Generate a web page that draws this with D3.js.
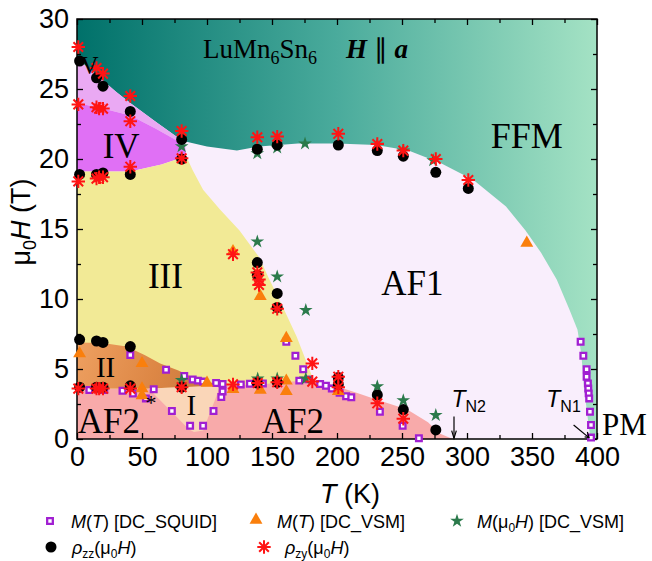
<!DOCTYPE html>
<html><head><meta charset="utf-8">
<script src="https://cdn.jsdelivr.net/npm/d3@7"></script>
<style>body{margin:0;background:#fff}svg{display:block}</style>
</head><body>
<script>
// ---------- phase boundaries, [T (K), mu0H (T)] ----------
const vTop     = [[0,27.2],[10,26.4],[20,25.6],[30,24.8],[41,24.0],[60,22.7],[81,21.3]];
const vBottom  = [[0,24.0],[20,23.6],[41,23.1],[60,22.2],[81,21.1]];
const ivBottom = [[0,19.1],[41,19.1],[65,19.6],[84,20.2]];
const ffmEdge  = [[81,21.3],[100,20.9],[123,20.6],[140,20.9],[170,21.1],[200,21.1],[230,21.0],[255,20.6],[280,19.7],[305,18.5],[330,16.6],[345,14.9],[357,13.3],[369,11.4],[379,9.2],[385,7.8],[388,6.0],[390,3.7],[393,1.4],[395,0]];
const iiiEdge  = [[84,20.2],[89,19.2],[97,17.8],[110,16.4],[125,14.9],[140,13.0],[148,11.4],[158,9.5],[169,7.3],[177,5.4],[182,4.2]];
const af2Top   = [[0,3.6],[55,3.6],[110,3.8],[141,3.9],[166,4.1],[182,4.2],[192,4.0],[202,3.7],[215,3.3],[228,2.9],[254,2.1],[270,1.2],[279,0.4],[289,0]];
const iiTop    = [[0,6.9],[20,6.85],[38,6.6],[52,6.0],[64,5.4],[78,4.9],[89,4.4],[100,4.1],[110,3.85]];
const iEdge    = [[55,3.6],[110,3.8],[107,3.0],[97,0.6],[90,0.5],[86,0.7]];

// ---------- measured transition points, [T (K), mu0H (T)] ----------
const squidPts = [[9.5,3.5],[21,3.5],[35,3.45],[41,6.0],[43,3.25],[53,2.9],[59,3.55],[68.5,4.95],[73,2.0],[82.5,4.5],[89,4.25],[93,4.17],[97,4.1],[87,0.95],[97,0.95],[105,2.0],[107,4.0],[111,3.0],[112,3.4],[112,3.93],[126,3.9],[133,3.95],[143,3.97],[161,6.95],[168,5.95],[174,4.98],[171,4.17],[178,4.26],[187,3.93],[191.5,3.8],[196,3.6],[202,3.3],[207,3.05],[211,2.98],[233,1.95],[250.5,0.95],[263,0.05],[387.4,6.95],[389.5,5.95],[392,4.98],[392,4.45],[393,3.97],[393.3,3.6],[393.6,3.26],[394,2.9],[394.6,1.95],[395.4,1.0],[395.4,0.1]];
const vsmTPts  = [[2,6.1],[50,5.4],[50,3.6],[50,3.1],[100,4.0],[120,13.4],[141,10.2],[161,7.2],[120,3.55],[141,3.5],[161,4.15],[161,3.4],[201,3.4],[346,14.0]];
const vsmHPts  = [[80.5,20.9],[80.5,4.2],[138.7,20.4],[154,20.8],[175.4,21.1],[231,21.0],[251,20.6],[274,19.9],[138.7,14.1],[154,11.6],[176,9.2],[139,4.3],[154,4.3],[176,4.3],[231,3.75],[251,2.75],[276,1.7]];
const rhoZZPts = [[2,27.0],[15,25.8],[20,25.2],[41,23.4],[80.5,21.4],[80.5,20.0],[2,18.9],[15,18.9],[20,19.0],[41,18.9],[2,7.1],[15,7.0],[20,6.9],[41,6.6],[2,3.7],[15,3.7],[20,3.7],[41,3.8],[80.5,3.7],[138.7,20.7],[154,21.0],[201,21.0],[231,20.6],[251,20.2],[276,19.05],[301,17.9],[138.7,12.6],[138.7,11.7],[154,10.4],[154,9.4],[138.7,4.0],[154,4.05],[201,4.4],[201,3.9],[231,3.15],[251,2.1],[276,0.65]];
const rhoZYPts = [[1,28.0],[15,26.5],[20,26.1],[41,24.5],[1,23.9],[15,23.7],[17,23.6],[20,23.6],[41,22.7],[80.5,22.0],[80.5,20.05],[41,19.45],[1,18.4],[15,18.6],[17,18.7],[20,18.7],[138.7,21.55],[154,21.6],[201,21.8],[231,21.07],[251,20.6],[276,20.0],[301,18.5],[120,13.2],[138.7,11.9],[140,11.4],[140,11.0],[154,9.3],[181,5.4],[120,3.9],[139,4.0],[154,4.05],[181,4.1],[201,4.45],[201,3.7],[231,2.55],[251,1.45],[1,3.6],[15,3.6],[17,3.6],[20,3.6],[41,3.6],[80.5,3.7]];

// ---------- axis ticks ----------
const xMajor = [0,50,100,150,200,250,300,350,400];
const xMinor = [25,75,125,175,225,275,325,375];
const yMajor = [0,5,10,15,20,25,30];
const yMinor = [2.5,7.5,12.5,17.5,22.5,27.5];

const W = 652, H = 561;
const svg = d3.select("body").append("svg").attr("width", W).attr("height", H);
const x = d3.scaleLinear().domain([0,400]).range([77,597]);
const y = d3.scaleLinear().domain([0,30]).range([439,19]);
const line = d3.line().x(d => x(d[0])).y(d => y(d[1]));
const SERIF = "'Liberation Serif','Times New Roman',serif";
const SANS = "'Liberation Sans',Arial,sans-serif";

// gradients
const defs = svg.append("defs");
const ffm = defs.append("linearGradient").attr("id","ffmGrad").attr("gradientUnits","userSpaceOnUse")
  .attr("x1",x(0)).attr("x2",x(400)).attr("y1",0).attr("y2",0);
[[0,"#00716a"],[0.5,"#4aab9c"],[1,"#a4e2c4"]].forEach(s => ffm.append("stop").attr("offset",s[0]).attr("stop-color",s[1]));
const ii = defs.append("linearGradient").attr("id","iiGrad").attr("gradientUnits","userSpaceOnUse")
  .attr("x1",x(0)).attr("y1",y(7)).attr("x2",x(100)).attr("y2",y(3.6));
[[0,"#eea061"],[0.6,"#dd8745"],[1,"#c9783e"]].forEach(s => ii.append("stop").attr("offset",s[0]).attr("stop-color",s[1]));

// ---------- phase regions ----------
const reg = svg.append("g");
reg.append("rect").attr("x",x(0)).attr("y",y(30)).attr("width",x(400)-x(0)).attr("height",y(0)-y(30)).attr("fill","url(#ffmGrad)");
reg.append("path").attr("d", line([[0,0],...vTop,...ffmEdge]) + "Z").attr("fill","#f9eefc");
reg.append("path").attr("d", line([...vTop,...vBottom.slice().reverse()]) + "Z").attr("fill","#eaa9f3");
reg.append("path").attr("d", line([...vBottom,[83,21.0],...ivBottom.slice().reverse()]) + "Z").attr("fill","#e070f5");
reg.append("path").attr("d", line([...ivBottom,...iiiEdge,[182,0],[0,0]]) + "Z").attr("fill","#f2ea96");
reg.append("path").attr("d", line([[0,0],...af2Top]) + "Z").attr("fill","#f8aaaa");
reg.append("path").attr("d", line([...iiTop,[110,3.8],[55,3.6],[0,3.6]]) + "Z").attr("fill","url(#iiGrad)");
reg.append("path").attr("d", line(iEdge) + "Z").attr("fill","#fad6b8");

// ---------- axes ----------
function axisStyle(g){ g.select(".domain").remove(); g.selectAll("text").attr("font-family",SANS).attr("font-size",27).attr("fill","#000"); g.selectAll("line").attr("stroke","#000").attr("stroke-width",1.3); }
svg.append("g").attr("transform",`translate(0,${y(0)})`).call(d3.axisBottom(x).tickValues(xMajor).tickSizeInner(-6).tickSizeOuter(0).tickPadding(8)).call(axisStyle);
svg.append("g").attr("transform",`translate(0,${y(0)})`).call(d3.axisBottom(x).tickValues(xMinor).tickSizeInner(-4).tickSizeOuter(0).tickFormat("")).call(axisStyle);
svg.append("g").attr("transform",`translate(0,${y(30)})`).call(d3.axisTop(x).tickValues(xMajor).tickSizeInner(-6).tickSizeOuter(0).tickFormat("")).call(axisStyle);
svg.append("g").attr("transform",`translate(0,${y(30)})`).call(d3.axisTop(x).tickValues(xMinor).tickSizeInner(-4).tickSizeOuter(0).tickFormat("")).call(axisStyle);
svg.append("g").attr("transform",`translate(${x(0)},0)`).call(d3.axisLeft(y).tickValues(yMajor).tickSizeInner(-6).tickSizeOuter(0).tickPadding(8)).call(axisStyle);
svg.append("g").attr("transform",`translate(${x(0)},0)`).call(d3.axisLeft(y).tickValues(yMinor).tickSizeInner(-4).tickSizeOuter(0).tickFormat("")).call(axisStyle);
svg.append("g").attr("transform",`translate(${x(400)},0)`).call(d3.axisRight(y).tickValues(yMajor).tickSizeInner(-6).tickSizeOuter(0).tickFormat("")).call(axisStyle);
svg.append("g").attr("transform",`translate(${x(400)},0)`).call(d3.axisRight(y).tickValues(yMinor).tickSizeInner(-4).tickSizeOuter(0).tickFormat("")).call(axisStyle);
svg.append("rect").attr("x",x(0)).attr("y",y(30)).attr("width",x(400)-x(0)).attr("height",y(0)-y(30))
  .attr("fill","none").attr("stroke","#000").attr("stroke-width",1.5);

// ---------- markers ----------
const asteriskType = { draw(ctx, size){ const r = Math.sqrt(size)/2, d = r*0.72;
  ctx.moveTo(-r,0); ctx.lineTo(r,0); ctx.moveTo(0,-r); ctx.lineTo(0,r);
  ctx.moveTo(-d,-d); ctx.lineTo(d,d); ctx.moveTo(-d,d); ctx.lineTo(d,-d); } };
const squareSym = d3.symbol(d3.symbolSquare, 32);
const triSym = d3.symbol(d3.symbolTriangle, 72);
const starSym = d3.symbol(d3.symbolStar, 58);
const circSym = d3.symbol(d3.symbolCircle, 95);
const astSym = d3.symbol(asteriskType, 180);
const COL = {squid:"#a11fd2", vsm:"#fa7f0c", star:"#2b7a4b", zz:"#000", zy:"#ff1414"};

function plotPts(data, sym, fill, stroke, sw){
  svg.append("g").selectAll("path").data(data).join("path")
    .attr("transform", d => `translate(${x(d[0])},${y(d[1])})`)
    .attr("d", sym).attr("fill", fill).attr("stroke", stroke).attr("stroke-width", sw);
}
plotPts(squidPts, squareSym, "#fff", COL.squid, 2.3);
plotPts(vsmTPts, triSym, COL.vsm, "none", 0);
plotPts(vsmHPts, starSym, COL.star, "none", 0);
plotPts(rhoZZPts, circSym, COL.zz, "none", 0);
plotPts(rhoZYPts, astSym, "none", COL.zy, 2);

// ---------- labels inside the plot ----------
function label(tx, ty, txt, size, anchor){
  return svg.append("text").attr("x",tx).attr("y",ty).attr("font-family",SERIF).attr("font-size",size)
    .attr("text-anchor",anchor||"middle").attr("fill","#000").text(txt);
}
label(x(9.6), y(26.1), "V", 25);
label(x(34), y(20.1), "IV", 35);
label(x(68), y(10.8), "III", 35);
label(x(22), y(4.4), "II", 29);
label(x(88), y(1.7), "I", 29);
label(x(0.6), y(0.42), "AF2", 35, "start");
label(x(57), y(2.1), "*", 22);
label(x(166), y(0.42), "AF2", 35);
label(x(258), y(10.3), "AF1", 35);
label(x(346), y(20.8), "FFM", 36);
label(x(400)+5, y(0)-4, "PM", 31, "start");

const ttl = svg.append("text").attr("x",203).attr("y",y(27.2)).attr("font-family",SERIF).attr("font-size",27).attr("fill","#000");
ttl.append("tspan").text("LuMn");
ttl.append("tspan").attr("font-size",18).attr("dy",6).text("6");
ttl.append("tspan").attr("dy",-6).text("Sn");
ttl.append("tspan").attr("font-size",18).attr("dy",6).text("6");
const ha = svg.append("text").attr("x",346).attr("y",y(27.2)).attr("font-family",SERIF).attr("font-size",27).attr("fill","#000");
ha.append("tspan").attr("font-style","italic").attr("font-weight","bold").text("H");
ha.append("tspan").text(" \u2225 ");
ha.append("tspan").attr("font-style","italic").attr("font-weight","bold").text("a");

// Néel temperature markers
function tn(tx, ty, sub){
  const t = svg.append("text").attr("x",tx).attr("y",ty).attr("font-family",SANS).attr("font-size",23).attr("fill","#000");
  t.append("tspan").attr("font-style","italic").text("T");
  t.append("tspan").attr("font-size",16).attr("dy",5).text(sub);
}
tn(x(288), y(2.3), "N2");
tn(x(361), y(2.3), "N1");
const arrows = svg.append("g").attr("stroke","#000").attr("stroke-width",1.2).attr("fill","none");
arrows.append("path").attr("d", line([[290,1.6],[290,0.05]]));
arrows.append("path").attr("d", line([[288.2,0.6],[290,0.05],[291.8,0.6]]));
arrows.append("path").attr("d", line([[382,1.0],[393.8,0.1]]));
arrows.append("path").attr("d", line([[390.5,0.15],[393.8,0.1],[392.6,0.5]]));

// ---------- axis titles ----------
const xt = svg.append("text").attr("x",350).attr("y",503).attr("text-anchor","middle").attr("font-family",SANS).attr("font-size",27).attr("fill","#000");
xt.append("tspan").attr("font-style","italic").text("T");
xt.append("tspan").text(" (K)");
const yt = svg.append("text").attr("transform","translate(30,222) rotate(-90)").attr("text-anchor","middle").attr("font-family",SANS).attr("font-size",27).attr("fill","#000");
yt.append("tspan").text("\u03bc");
yt.append("tspan").attr("font-size",18).attr("dy",6).text("0");
yt.append("tspan").attr("dy",-6).attr("font-style","italic").text("H");
yt.append("tspan").text(" (T)");

// ---------- legend ----------
const lg = svg.append("g").attr("font-family",SANS).attr("font-size",18).attr("fill","#000");
function legText(lx, ly, parts){
  const t = lg.append("text").attr("x",lx).attr("y",ly);
  parts.forEach(p => { const s = t.append("tspan").text(p[0]);
    if (p[1]==="i") s.attr("font-style","italic");
    if (p[1]==="sub") s.attr("font-size",12).attr("dy",4);
    if (p[2]) s.attr("dy",p[2]);
  });
}
function legMark(lx, ly, sym, fill, stroke, sw){
  lg.append("path").attr("transform",`translate(${lx},${ly})`).attr("d",sym).attr("fill",fill).attr("stroke",stroke).attr("stroke-width",sw);
}
legMark(50, 521, squareSym, "#fff", COL.squid, 2.3);
legText(71, 528, [["M","i"],["("],["T","i"],[") [DC_SQUID]"]]);
legMark(256, 520, triSym, COL.vsm, "none", 0);
legText(277, 528, [["M","i"],["("],["T","i"],[") [DC_VSM]"]]);
legMark(457, 521, starSym, COL.star, "none", 0);
legText(477, 528, [["M","i"],["(\u03bc"],["0","sub"],["H","i",-4],[") [DC_VSM]"]]);
legMark(51, 547, circSym, COL.zz, "none", 0);
legText(72, 554, [["\u03c1","i"],["zz","sub"],["(\u03bc",null,-4],["0","sub"],["H","i",-4],[")"]]);
legMark(264, 547, astSym, "none", COL.zy, 2);
legText(285, 554, [["\u03c1","i"],["zy","sub"],["(\u03bc",null,-4],["0","sub"],["H","i",-4],[")"]]);
</script>
</body></html>
